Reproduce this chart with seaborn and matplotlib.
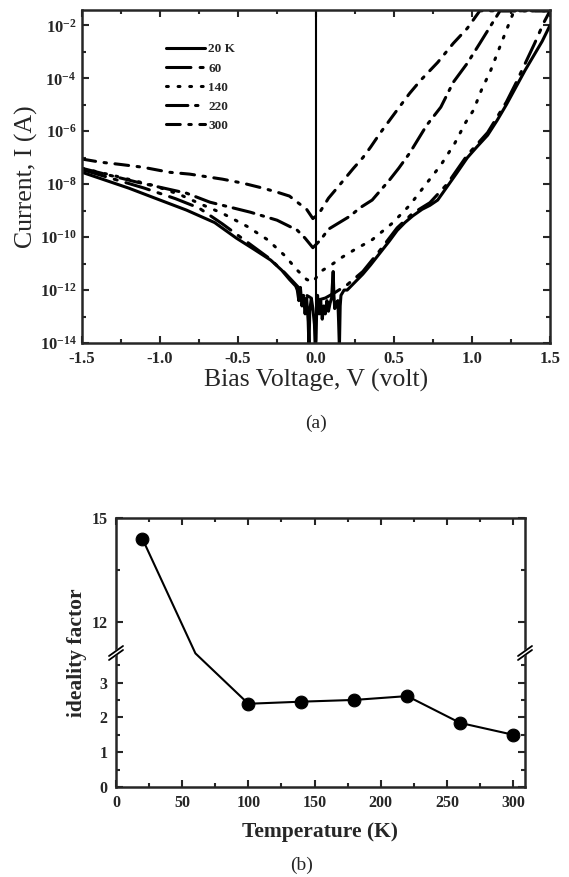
import numpy as np
import pandas as pd
import seaborn as sns
import matplotlib.pyplot as plt
from matplotlib.ticker import MultipleLocator, FixedLocator, FuncFormatter, NullFormatter, LogLocator

# ---- (a) I-V curves, log10 of current ----
curve_labels = ['20 K', '60', '140', '220', '300']

v_20 = [-1.5, -1.35, -1.2, -1.0, -0.83, -0.65, -0.51, -0.4, -0.29, -0.22, -0.17, -0.13,
        -0.12, -0.11, -0.10, -0.09, -0.08, -0.07, -0.06, -0.05, -0.045, -0.04, -0.03, -0.02,
        -0.01, -0.005, 0.0, 0.005, 0.01, 0.02, 0.03, 0.04, 0.05, 0.06, 0.07, 0.08, 0.09, 0.10,
        0.11, 0.115, 0.12, 0.13, 0.14, 0.145, 0.15, 0.155, 0.16, 0.17, 0.18,
        0.2, 0.25, 0.3, 0.35, 0.41, 0.47, 0.52, 0.57, 0.62, 0.68, 0.73, 0.78, 0.84, 0.9,
        0.97, 1.03, 1.1, 1.16, 1.22, 1.28, 1.34, 1.39, 1.45, 1.5]
logi_20 = [-7.55, -7.85, -8.15, -8.6, -8.98, -9.45, -10.04, -10.45, -10.87, -11.25, -11.6, -11.85,
           -12.0, -12.4, -11.9, -12.6, -12.2, -12.9, -12.3, -13.2, -14.2, -12.8, -12.3, -12.7,
           -13.3, -14.2, -13.9, -12.6, -12.2, -12.9, -12.4, -13.1, -12.6, -12.9, -12.4, -12.8, -12.5, -12.3,
           -11.3, -12.2, -12.7, -12.5, -12.4, -13.2, -14.2, -12.6, -12.2, -12.1, -12.0,
           -12.0, -11.7, -11.4, -11.05, -10.6, -10.15, -9.75, -9.45, -9.2, -8.95, -8.8, -8.6, -8.1, -7.6,
           -7.0, -6.6, -6.15, -5.6, -5.0, -4.35, -3.7, -3.2, -2.6, -2.0]

v_60 = [-1.5, -1.3, -1.1, -0.9, -0.75, -0.6, -0.45, -0.3, -0.2, -0.12, -0.06, 0.0, 0.06, 0.12,
        0.2, 0.3, 0.41, 0.52, 0.62, 0.73, 0.84, 0.97, 1.1, 1.22, 1.28, 1.34, 1.4, 1.46, 1.5]
logi_60 = [-7.45, -7.8, -8.15, -8.55, -8.9, -9.5, -10.15, -10.8, -11.35, -11.85, -12.2, -12.4, -12.3, -12.1,
           -11.8, -11.3, -10.5, -9.65, -9.1, -8.7, -8.0, -6.9, -6.05, -4.9, -4.2, -3.45, -2.7, -1.9, -1.45]

v_140 = [-1.5, -1.28, -1.04, -0.87, -0.74, -0.6, -0.44, -0.31, -0.2, -0.12, -0.06, -0.02, 0.03, 0.11,
         0.17, 0.24, 0.36, 0.49, 0.6, 0.71, 0.8, 0.89, 0.96, 1.01, 1.06, 1.12, 1.17, 1.22, 1.27, 1.5]
logi_140 = [-7.4, -7.7, -8.05, -8.4, -8.75, -9.1, -9.6, -10.1, -10.7, -11.25, -11.6, -11.7, -11.3, -11.0,
            -10.75, -10.5, -10.1, -9.47, -8.8, -7.96, -7.28, -6.45, -5.66, -5.2, -4.45, -3.7, -2.94, -2.19, -1.45, -1.45]

v_220 = [-1.5, -1.15, -0.83, -0.68, -0.42, -0.25, -0.12, -0.07, -0.02, 0.03, 0.08, 0.22, 0.28, 0.36,
         0.47, 0.53, 0.6, 0.71, 0.8, 0.88, 0.97, 1.05, 1.13, 1.18, 1.5]
logi_220 = [-7.4, -7.92, -8.34, -8.68, -9.06, -9.36, -9.74, -10.04, -10.4, -10.1, -9.7, -9.2, -8.9, -8.6,
            -7.85, -7.4, -6.83, -5.77, -5.09, -4.15, -3.43, -2.68, -1.92, -1.45, -1.45]

v_300 = [-1.5, -1.38, -1.26, -1.11, -0.94, -0.81, -0.6, -0.47, -0.34, -0.25, -0.17, -0.12, -0.06, -0.02,
         0.02, 0.08, 0.15, 0.24, 0.3, 0.35, 0.41, 0.52, 0.6, 0.67, 0.78, 0.88, 0.97, 1.05, 1.5]
logi_300 = [-7.05, -7.17, -7.25, -7.36, -7.55, -7.62, -7.81, -7.96, -8.15, -8.3, -8.45, -8.68, -8.95, -9.3,
            -9.1, -8.53, -8.04, -7.4, -7.0, -6.6, -6.08, -5.2, -4.57, -4.08, -3.4, -2.68, -2.11, -1.45, -1.45]

# ---- (b) ideality factor vs temperature (60 K value sits inside the axis break) ----
temps = [20, 60, 100, 140, 180, 220, 260, 300]
ideality = [14.4, 7.5, 2.39, 2.45, 2.5, 2.61, 1.84, 1.5]
has_marker = [True, False, True, True, True, True, True, True]

sns.set_theme(style='ticks')
plt.rcParams['font.family'] = ['Liberation Serif', 'DejaVu Serif']
plt.rcParams['font.weight'] = 'bold'
plt.rcParams['mathtext.fontset'] = 'custom'
plt.rcParams['mathtext.bf'] = 'Liberation Serif:bold'
plt.rcParams['mathtext.rm'] = 'Liberation Serif:bold'
plt.rcParams['axes.unicode_minus'] = False
plt.rcParams['axes.linewidth'] = 1.8
plt.rcParams['xtick.direction'] = 'in'
plt.rcParams['ytick.direction'] = 'in'

fig = plt.figure(figsize=(5.69, 8.77), dpi=100)

# ================= panel (a) =================
ax1 = fig.add_axes([82 / 569, 1 - 343 / 877, 468 / 569, 333 / 877])

frames = []
for lab, v, li in zip(curve_labels, [v_20, v_60, v_140, v_220, v_300],
                      [logi_20, logi_60, logi_140, logi_220, logi_300]):
    frames.append(pd.DataFrame({'V': v, 'I': 10.0 ** np.array(li), 'T': lab}))
df_iv = pd.concat(frames, ignore_index=True)

dash_map = {'20 K': '', '60': (8, 3, 1, 3), '140': (0.6, 3.2),
            '220': (7, 2.5, 0.8, 2.5), '300': (4.5, 2.8, 0.8, 2.8)}

ax1.set_yscale('log')
sns.lineplot(data=df_iv, x='V', y='I', hue='T', style='T', hue_order=curve_labels,
             style_order=curve_labels, palette=['black'] * 5, dashes=dash_map,
             sort=False, estimator=None, lw=2.2, dash_capstyle='round', ax=ax1)
ax1.axvline(0, color='black', lw=1.5)

ax1.set_xlim(-1.5, 1.5)
ax1.set_ylim(1e-14, 10 ** -1.42)
ax1.xaxis.set_major_locator(MultipleLocator(0.5))
ax1.xaxis.set_minor_locator(MultipleLocator(0.25))
ax1.xaxis.set_major_formatter(FuncFormatter(lambda v, p: '%.1f' % v))
ax1.yaxis.set_major_locator(LogLocator(base=100, numticks=20))
ax1.yaxis.set_minor_locator(LogLocator(base=10, subs=(1.0,), numticks=20))
ax1.yaxis.set_minor_formatter(NullFormatter())
ax1.yaxis.set_major_formatter(FuncFormatter(lambda v, p: r'$\mathbf{10^{%d}}$' % round(np.log10(v))))
ax1.tick_params(which='both', top=True, right=True, width=1.5, labelsize=12)
ax1.tick_params(which='major', length=5)
ax1.tick_params(which='minor', length=3)
ax1.tick_params(axis='x', pad=6)
ax1.tick_params(axis='y', pad=4)
ax1.set_xlabel('Bias Voltage, V (volt)', fontsize=18.5, fontweight='normal', labelpad=1)
ax1.set_ylabel('Current, I (A)', fontsize=18.5, fontweight='normal', labelpad=1)

leg = ax1.get_legend()
handles = leg.legend_handles
labels = [t.get_text() for t in leg.get_texts()]
for h in handles:
    h.set_linewidth(2.2)
    h.set_color('black')
ax1.legend(handles, labels, loc='upper left', bbox_to_anchor=(0.165, 0.92), frameon=False,
           prop={'weight': 'bold', 'size': 9.5}, handlelength=3.0, handletextpad=0.2,
           labelspacing=0.52, borderpad=0)

fig.text(316 / 569, 1 - 423 / 877, '(a)', fontsize=14, fontweight='normal', ha='center', va='center')

# ================= panel (b) =================
ax2 = fig.add_axes([116 / 569, 1 - 787 / 877, 409 / 569, 269 / 877])

df_b = pd.DataFrame({'T': temps, 'n': ideality, 'mark': has_marker})
sns.lineplot(data=df_b, x='T', y='n', color='black', lw=1.5, sort=False, estimator=None, ax=ax2)
sns.scatterplot(data=df_b[df_b['mark']], x='T', y='n', color='black', s=85,
                edgecolor='black', zorder=3, ax=ax2)

lo, hi, eps = 3.8, 11.15, 0.01

def fwd(y):
    y = np.asarray(y, dtype=float)
    return np.where(y <= lo, y, np.where(y >= hi, y - (hi - lo) * (1 - eps), lo + (y - lo) * eps))

def inv(z):
    z = np.asarray(z, dtype=float)
    top = lo + (hi - lo) * eps
    return np.where(z <= lo, z, np.where(z >= top, z + (hi - lo) * (1 - eps), lo + (z - lo) / eps))

ax2.set_yscale('function', functions=(fwd, inv))
ax2.set_xlim(0, 309)
ax2.set_ylim(0, 15)
ax2.xaxis.set_major_locator(MultipleLocator(50))
ax2.xaxis.set_minor_locator(MultipleLocator(25))
ax2.yaxis.set_major_locator(FixedLocator([0, 1, 2, 3, 12, 15]))
ax2.yaxis.set_minor_locator(FixedLocator([0.5, 1.5, 2.5, 3.5, 13.5]))
ax2.yaxis.set_major_formatter(FuncFormatter(lambda v, p: '%d' % round(v)))
ax2.yaxis.set_minor_formatter(NullFormatter())
ax2.tick_params(which='both', top=True, right=True, width=1.5, labelsize=11.5)
ax2.tick_params(which='major', length=5)
ax2.tick_params(which='minor', length=3)
ax2.tick_params(axis='x', pad=6)
ax2.tick_params(axis='y', pad=6)
ax2.set_xlabel('Temperature (K)', fontsize=15.5, fontweight='bold', labelpad=8)
ax2.set_ylabel('ideality factor', fontsize=15.5, fontweight='bold', labelpad=3)

# axis break marks on both spines
yb = (787 - 653) / 269
dx, dy, gap = 7 / 409, 5 / 269, 3 / 269
for xb in (0, 1):
    ax2.plot([xb - dx, xb + dx], [yb - dy, yb + dy], transform=ax2.transAxes,
             color='white', lw=3.5, clip_on=False, zorder=5)
    for off in (-gap / 2 - 0.5 / 269, gap / 2 + 0.5 / 269):
        ax2.plot([xb - dx, xb + dx], [yb - dy + off, yb + dy + off], transform=ax2.transAxes,
                 color='black', lw=1.3, clip_on=False, zorder=6)

fig.text(302 / 569, 1 - 865 / 877, '(b)', fontsize=14, fontweight='normal', ha='center', va='center')

fig.savefig('out.png', dpi=100)
